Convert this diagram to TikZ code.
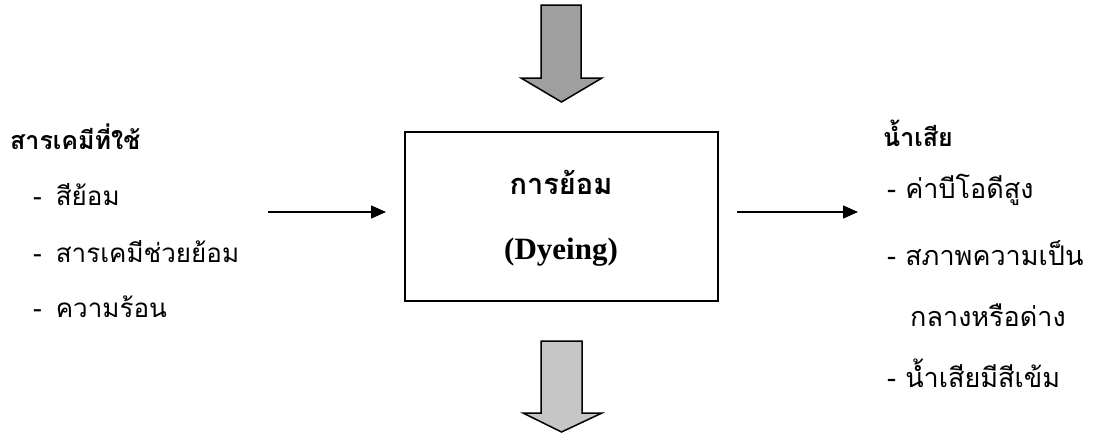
\documentclass[tikz,border=0pt]{standalone}
\usepackage{fontspec}
\setmainfont{Liberation Serif}
\newfontfamily\thai[Script=Thai]{Loma}
\usetikzlibrary{arrows.meta}
\begin{document}
\begin{tikzpicture}[x=1pt,y=-1pt,
  thtext/.style={font=\thai\fontsize{26}{30}\selectfont, anchor=west, inner sep=0pt},
  thtextr/.style={font=\thai\fontsize{27}{30}\selectfont, anchor=west, inner sep=0pt},
  thhead/.style={font=\thai\bfseries\fontsize{25}{30}\selectfont, anchor=west, inner sep=0pt},
  flow/.style={line width=1.3pt, -{Triangle[length=15pt,width=13pt]}},
  blockarrow/.style={draw=black, line width=1.5pt, line join=miter}]
\useasboundingbox (0,0) rectangle (1097,440);
% central box
\node[draw, line width=1.6pt, minimum width=313pt, minimum height=169pt, inner sep=0pt] (box) at (561.5,216.5) {};
\node[font=\thai\bfseries\fontsize{29}{32}\selectfont, inner sep=0pt] (t1) at (561,182) {การย้อม};
\node[font=\bfseries\fontsize{31}{34}\selectfont, inner sep=0pt] (t2) at (561,252) {(Dyeing)};
% block arrows
\fill[gray!75] (541,5) -- (581,5) -- (581,78) -- (602,78) -- (561.5,102) -- (521,78) -- (541,78) -- cycle;
\draw[blockarrow] (541,5) -- (581,5) -- (581,78) -- (602,78) -- (561.5,102) -- (521,78) -- (541,78) -- cycle;
\fill[gray!45] (541,341) -- (582,341) -- (582,413) -- (602,413) -- (561.5,432) -- (523,413) -- (541,413) -- cycle;
\draw[blockarrow] (541,341) -- (582,341) -- (582,413) -- (602,413) -- (561.5,432) -- (523,413) -- (541,413) -- cycle;
% left text
\node[thhead] (lh) at (10,137) {สารเคมีที่ใช้};
\node[thtext] (l1) at (33,195) {-\hspace{14pt}สีย้อม};
\node[thtext] (l2) at (33,252) {-\hspace{14pt}สารเคมีช่วยย้อม};
\node[thtext] (l3) at (33,307) {-\hspace{14pt}ความร้อน};
% right text
\node[thhead] (rh) at (883,133) {น้ำเสีย};
\node[thtextr] (r1) at (887,190) {- ค่าบีโอดีสูง};
\node[thtextr] (r2) at (887,253) {- สภาพความเป็น};
\node[thtextr] (r3) at (910,315) {กลางหรือด่าง};
\node[thtextr] (r4) at (887,373) {- น้ำเสียมีสีเข้ม};
% flow arrows
\coordinate (ls) at (268,212);
\coordinate (le) at (386,212);
\coordinate (rs) at (737,212);
\coordinate (re) at (858,212);
\draw[flow] (ls) -- (le);
\draw[flow] (rs) -- (re);
\end{tikzpicture}
\end{document}
